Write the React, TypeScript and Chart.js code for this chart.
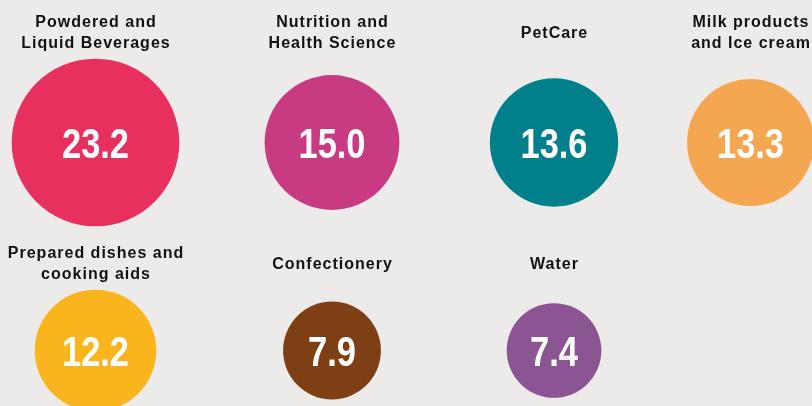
import React, { useEffect, useRef } from 'react';
import { Chart, registerables } from 'chart.js';

Chart.register(...registerables);

// ---- data ----
const categories: string[][] = [
  ['Powdered and', 'Liquid Beverages'],
  ['Nutrition and', 'Health Science'],
  ['PetCare'],
  ['Milk products', 'and Ice cream'],
  ['Prepared dishes and', 'cooking aids'],
  ['Confectionery'],
  ['Water'],
];
const values = [23.2, 15.0, 13.6, 13.3, 12.2, 7.9, 7.4];
const columnOf = [0, 1, 2, 3, 0, 1, 2];
const rowOf = [0, 0, 0, 0, 1, 1, 1];

// ---- layout / style ----
const colors = ['#e8305f', '#c83a82', '#00808a', '#f5a651', '#f9b41e', '#7e3f14', '#8a5592'];
const columnX = [95.5, 332, 554, 750.5];
const rowY = [142.5, 350.5];
const labelBaselineY = [37.5, 268.5];
const RADIUS_K = 17.4;
const W = 812;
const H = 406;

const labelPlugin = {
  id: 'bubbleLabels',
  afterDatasetsDraw(chart: any) {
    const ctx = chart.ctx as CanvasRenderingContext2D;
    const meta = chart.getDatasetMeta(0);
    const ys = chart.scales.y;
    meta.data.forEach((el: any, i: number) => {
      // value inside bubble (condensed)
      ctx.save();
      ctx.fillStyle = '#ffffff';
      ctx.textAlign = 'center';
      ctx.textBaseline = 'alphabetic';
      ctx.font = 'bold 42px "Liberation Sans", Arial, sans-serif';
      ctx.translate(el.x, el.y + 15.5);
      ctx.scale(0.82, 1);
      ctx.fillText(values[i].toFixed(1), 0, 0);
      ctx.restore();

      // category label above
      ctx.save();
      const lines = categories[i];
      const baseY = ys.getPixelForValue(labelBaselineY[rowOf[i]]);
      ctx.fillStyle = '#111111';
      ctx.textAlign = 'center';
      ctx.textBaseline = 'alphabetic';
      ctx.font = 'bold 16px "Liberation Sans", Arial, sans-serif';
      (ctx as any).letterSpacing = '1px';
      const lh = 21.7;
      lines.forEach((ln, j) => {
        const y = baseY + (j - (lines.length - 1) / 2) * lh;
        ctx.fillText(ln, el.x + 0.5, y);
      });
      ctx.restore();
    });
  },
};

export default function App() {
  const ref = useRef<HTMLCanvasElement | null>(null);

  useEffect(() => {
    if (!ref.current) return;
    const chart = new Chart(ref.current, {
      type: 'bubble',
      data: {
        datasets: [
          {
            data: values.map((v, i) => ({
              x: columnX[columnOf[i]],
              y: rowY[rowOf[i]],
              r: RADIUS_K * Math.sqrt(v),
            })),
            backgroundColor: colors,
            hoverBackgroundColor: colors,
            borderWidth: 0,
            hoverBorderWidth: 0,
            clip: false as any,
          },
        ],
      },
      options: {
        responsive: false,
        animation: false,
        events: [],
        layout: { padding: 0, autoPadding: false },
        plugins: {
          legend: { display: false },
          tooltip: { enabled: false },
        },
        scales: {
          x: { type: 'linear', min: 0, max: W, display: false },
          y: { type: 'linear', min: 0, max: H, reverse: true, display: false },
        },
      },
      plugins: [labelPlugin],
    });
    return () => chart.destroy();
  }, []);

  return (
    <div
      style={{
        position: 'absolute',
        left: 0,
        top: 0,
        width: W,
        height: H,
        background: '#ecebe9',
        overflow: 'hidden',
      }}
    >
      <canvas ref={ref} width={W} height={H} style={{ display: 'block' }} />
    </div>
  );
}
